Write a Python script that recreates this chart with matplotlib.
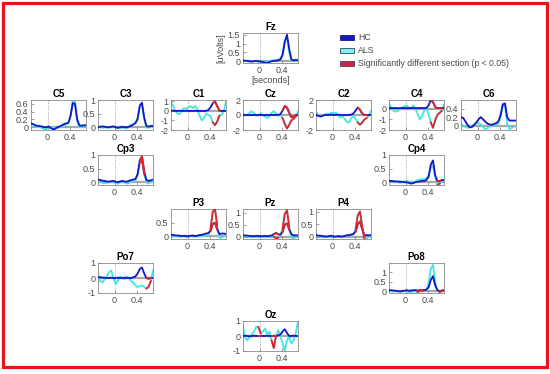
import numpy as np
import matplotlib
matplotlib.use("Agg")
import matplotlib.pyplot as plt
from matplotlib.patches import Patch, Rectangle

plt.rcParams["font.family"] = ["Liberation Sans", "DejaVu Sans"]

C_HC = "#1414c8"
C_ALS = "#3ee6e6"
C_SIG = "#e0242a"
C_ZERO = "#a8a8a8"
C_TXT = "#4a4a4a"

# time axis (s)
times = [-0.30, -0.26, -0.22, -0.18, -0.14, -0.10, -0.06, -0.02, 0.02, 0.06,
         0.10, 0.14, 0.18, 0.22, 0.26, 0.30, 0.34, 0.38, 0.42, 0.46,
         0.50, 0.54, 0.58, 0.62, 0.66, 0.70]

# --- ERP curves (uV) ----------------------------------------------------------
fz_hc  = [0.05, 0.03, 0.02, 0.00, -0.02, 0.00, 0.02, 0.00, -0.02, -0.05, -0.08, -0.10, -0.05,
          0.00, 0.02, 0.03, 0.05, 0.10, 0.35, 1.10, 1.50, 0.70, 0.10, 0.05, 0.08, 0.05]
fz_als = [0.00, 0.02, 0.00, -0.02, 0.00, 0.02, 0.00, -0.02, -0.03, -0.02, 0.00, -0.03, 0.00,
          0.02, 0.05, 0.08, 0.10, 0.15, 0.45, 1.20, 1.30, 0.50, 0.05, 0.02, 0.03, 0.02]

c5_hc  = [0.10, 0.08, 0.05, 0.04, 0.03, 0.02, 0.00, 0.00, 0.02, -0.02, -0.05, -0.04, 0.00,
          0.02, 0.05, 0.08, 0.10, 0.12, 0.30, 0.62, 0.60, 0.20, 0.05, 0.04, 0.05, 0.05]
c5_als = [0.00, 0.02, 0.03, 0.02, 0.00, -0.02, -0.05, -0.05, -0.03, -0.02, 0.00, 0.00, -0.02,
          0.00, 0.03, 0.05, 0.07, 0.10, 0.30, 0.70, 0.65, 0.15, 0.00, 0.00, 0.02, 0.03]

c3_hc  = [0.00, 0.02, 0.03, 0.02, 0.00, 0.00, 0.02, 0.03, 0.00, -0.02, 0.00, 0.02, 0.00,
          0.00, 0.02, 0.05, 0.10, 0.15, 0.30, 0.80, 0.90, 0.35, 0.05, 0.02, 0.05, 0.05]
c3_als = [0.00, 0.00, -0.02, 0.00, 0.00, -0.02, 0.00, 0.00, 0.00, -0.02, -0.03, -0.02, 0.00,
          -0.05, 0.00, 0.10, 0.10, 0.15, 0.35, 0.75, 0.80, 0.30, 0.00, -0.02, 0.02, 0.05]

c1_hc  = [0.05, 0.03, 0.00, 0.00, 0.02, 0.00, 0.00, 0.02, 0.00, 0.00, 0.00, 0.02, 0.00,
          0.00, 0.00, 0.00, 0.02, 0.10, 0.40, 0.80, 1.00, 0.50, 0.05, 0.00, 0.00, 0.00]
c1_als = [1.00, 0.50, 0.00, -0.30, -0.30, 0.10, 0.30, 0.20, 0.40, 0.50, 0.30, 0.50, 0.20,
          -0.50, -1.00, -0.70, -0.30, -0.40, -0.60, -1.20, -1.50, -1.10, -0.50, -0.40, 0.00, 1.00]

cz_hc  = [0.00, 0.02, 0.00, -0.02, 0.00, 0.02, 0.00, 0.00, 0.02, 0.00, -0.02, 0.00, 0.00,
          0.02, 0.00, 0.00, 0.02, 0.10, 0.60, 1.20, 1.00, 0.30, -0.30, -0.20, 0.00, 0.00]
cz_als = [0.10, -0.10, 0.00, 0.30, 0.50, 0.20, -0.10, 0.00, 0.20, 0.00, -0.20, -0.40, -0.20,
          0.30, 0.50, 0.20, -0.10, 0.00, -0.40, -1.20, -1.80, -1.30, -0.70, -0.50, -0.20, 0.50]

c2_hc  = [0.00, -0.10, -0.20, -0.10, 0.00, 0.00, 0.00, 0.05, 0.00, 0.00, 0.05, 0.00, 0.00,
          0.00, 0.00, 0.00, 0.05, 0.20, 0.60, 1.00, 0.70, 0.20, 0.00, 0.00, 0.00, 0.00]
c2_als = [0.50, -0.10, -0.20, -0.10, 0.00, 0.20, 0.10, 0.30, 0.20, 0.30, 0.00, -0.30, -0.20,
          -0.50, -0.90, -1.00, -0.40, -0.20, -0.50, -1.00, -1.30, -1.00, -0.60, -0.40, -0.10, 0.60]

c4_hc  = [0.05, 0.05, 0.05, 0.05, 0.03, 0.05, 0.05, 0.05, 0.05, 0.05, 0.05, 0.05, 0.05,
          0.05, 0.05, 0.05, 0.05, 0.05, 0.30, 0.80, 0.60, 0.15, 0.05, 0.05, 0.05, 0.05]
c4_als = [0.50, 0.10, -0.20, -0.30, -0.20, 0.00, 0.10, 0.20, 0.30, 0.10, 0.00, 0.30, 0.00,
          -0.50, -1.00, -0.70, -0.20, 0.00, -0.50, -1.30, -1.80, -1.10, -0.60, -0.40, -0.20, 0.40]

c6_hc  = [0.20, 0.18, 0.10, 0.02, -0.04, -0.03, 0.02, 0.08, 0.15, 0.20, 0.15, 0.10, 0.05,
          0.03, 0.02, 0.04, 0.06, 0.10, 0.25, 0.50, 0.52, 0.20, 0.12, 0.12, 0.12, 0.12]
c6_als = [0.05, 0.00, -0.03, -0.05, -0.02, 0.00, 0.03, 0.05, 0.06, 0.03, -0.03, -0.08, -0.06,
          -0.02, 0.00, 0.02, 0.03, 0.05, 0.20, 0.48, 0.45, 0.05, -0.08, -0.05, -0.03, 0.00]

cp3_hc  = [0.10, 0.08, 0.06, 0.05, 0.03, 0.02, 0.04, 0.05, 0.02, 0.00, 0.03, 0.05, 0.03,
           0.02, 0.05, 0.08, 0.10, 0.12, 0.30, 0.80, 0.95, 0.40, 0.08, 0.05, 0.07, 0.10]
cp3_als = [0.02, 0.00, -0.02, -0.04, -0.02, 0.00, 0.02, 0.00, -0.03, -0.05, 0.00, 0.03, 0.00,
           -0.05, -0.03, 0.02, 0.05, 0.08, 0.25, 0.70, 0.80, 0.30, 0.00, -0.05, 0.00, 0.02]

cp4_hc  = [0.05, 0.05, 0.04, 0.03, 0.03, 0.02, 0.02, 0.00, 0.00, -0.02, -0.05, -0.03, 0.00,
           0.02, 0.03, 0.05, 0.05, 0.08, 0.20, 0.65, 0.80, 0.25, 0.05, 0.05, 0.08, 0.08]
cp4_als = [0.03, 0.02, 0.00, 0.02, 0.00, -0.02, 0.00, 0.03, 0.05, 0.02, 0.00, 0.00, 0.03,
           0.08, 0.10, 0.10, 0.12, 0.15, 0.25, 0.55, 0.60, 0.20, -0.10, -0.05, 0.02, 0.05]

p3_hc  = [0.05, 0.05, 0.03, 0.03, 0.02, 0.00, 0.02, 0.00, 0.00, 0.02, 0.03, 0.00, 0.02,
          0.05, 0.05, 0.08, 0.10, 0.12, 0.20, 0.45, 0.50, 0.25, 0.08, 0.10, 0.10, 0.08]
p3_als = [0.00, -0.02, 0.00, 0.00, -0.02, 0.00, 0.00, -0.03, 0.00, 0.00, -0.02, 0.00, 0.00,
          0.00, 0.00, 0.02, 0.03, 0.05, 0.30, 0.90, 1.00, 0.40, -0.05, -0.05, 0.00, 0.02]

pz_hc  = [0.05, 0.05, 0.04, 0.03, 0.02, 0.02, 0.03, 0.03, 0.02, 0.02, 0.03, 0.02, 0.03,
          0.05, 0.10, 0.15, 0.10, 0.08, 0.20, 0.50, 0.55, 0.30, 0.10, 0.05, 0.05, 0.05]
pz_als = [0.00, 0.00, 0.00, -0.02, 0.00, 0.00, 0.00, 0.00, 0.00, -0.02, 0.00, 0.00, 0.00,
          0.02, 0.00, -0.08, -0.05, 0.05, 0.35, 0.95, 1.10, 0.40, -0.05, -0.10, 0.00, 0.02]

p4_hc  = [0.05, 0.04, 0.03, 0.02, 0.00, 0.00, 0.02, 0.03, 0.00, 0.00, 0.02, 0.00, 0.00,
          0.02, 0.05, 0.05, 0.08, 0.10, 0.20, 0.50, 0.60, 0.30, 0.05, 0.05, 0.05, 0.05]
p4_als = [0.00, 0.00, 0.00, -0.02, 0.00, 0.00, -0.02, 0.00, 0.00, -0.02, 0.00, 0.00, 0.00,
          0.02, 0.03, 0.05, 0.05, 0.08, 0.30, 0.85, 1.00, 0.40, -0.10, -0.08, 0.00, 0.02]

po7_hc  = [0.05, 0.05, 0.03, 0.02, 0.00, 0.00, 0.02, 0.00, 0.00, 0.02, 0.00, 0.00, 0.02,
           0.00, 0.00, 0.00, 0.05, 0.10, 0.30, 0.60, 0.70, 0.30, 0.00, -0.05, 0.00, 0.00]
po7_als = [0.30, -0.20, -0.30, -0.10, 0.10, 0.40, 0.50, 0.00, -0.40, -0.20, 0.10, 0.00, -0.10,
           0.10, 0.00, -0.20, -0.30, -0.50, -0.60, -0.55, -0.50, -0.60, -0.70, -0.60, -0.20, 0.50]

po8_hc  = [0.05, 0.05, 0.03, 0.02, 0.00, -0.02, 0.00, 0.02, 0.05, 0.02, 0.03, 0.05, 0.05,
           0.03, 0.05, 0.05, 0.05, 0.08, 0.20, 0.60, 0.80, 0.30, 0.05, 0.00, 0.03, 0.05]
po8_als = [0.00, 0.00, -0.02, 0.00, 0.00, -0.02, 0.00, 0.00, 0.00, -0.05, -0.05, -0.02, 0.00,
           -0.05, 0.00, 0.02, 0.05, 0.10, 0.40, 1.20, 1.40, 0.50, 0.00, -0.05, 0.00, 0.02]

oz_hc  = [0.00, 0.02, 0.00, -0.02, 0.00, 0.02, 0.00, 0.00, 0.02, 0.00, 0.00, 0.02, 0.00,
          0.00, 0.02, 0.00, 0.05, 0.10, 0.30, 0.45, 0.20, 0.00, 0.00, 0.02, 0.00, 0.00]
oz_als = [0.60, -0.10, -0.30, 0.00, 0.10, 0.30, 0.60, 0.60, 0.20, 0.30, 0.50, 0.10, 0.30,
          -0.30, -0.80, 0.00, 0.40, 0.00, -0.50, -1.00, -0.30, 0.00, -0.50, -0.30, 0.20, 1.00]

# significant sections (s)
sig_c1  = [(0.44, 0.60)]
sig_cz  = [(0.42, 0.66)]
sig_c2  = [(0.44, 0.62)]
sig_c4  = [(0.44, 0.66)]
sig_cp3 = [(0.46, 0.54)]
sig_cp4 = [(0.55, 0.62)]
sig_p3  = [(0.40, 0.56)]
sig_pz  = [(0.24, 0.36), (0.42, 0.56)]
sig_p4  = [(0.42, 0.60)]
sig_po7 = [(0.56, 0.66)]
sig_po8 = [(0.22, 0.30), (0.60, 0.66)]
sig_oz  = [(-0.04, 0.02), (0.22, 0.30)]

# name -> (hc, als, sig, ylim, yticks)
channels = {
    "Fz":  (fz_hc,  fz_als,  [],      (-0.1, 1.6),  [0, 0.5, 1, 1.5]),
    "C5":  (c5_hc,  c5_als,  [],      (-0.07, 0.7), [0, 0.2, 0.4, 0.6]),
    "C3":  (c3_hc,  c3_als,  [],      (-0.1, 1.0),  [0, 0.5, 1]),
    "C1":  (c1_hc,  c1_als,  sig_c1,  (-2, 1.15),   [-2, -1, 0, 1]),
    "Cz":  (cz_hc,  cz_als,  sig_cz,  (-2, 2),      [-2, 0, 2]),
    "C2":  (c2_hc,  c2_als,  sig_c2,  (-2, 2),      [-2, 0, 2]),
    "C4":  (c4_hc,  c4_als,  sig_c4,  (-2, 0.8),    [-2, -1, 0]),
    "C6":  (c6_hc,  c6_als,  [],      (-0.1, 0.6),  [0, 0.2, 0.4]),
    "Cp3": (cp3_hc, cp3_als, sig_cp3, (-0.1, 1.0),  [0, 0.5, 1]),
    "Cp4": (cp4_hc, cp4_als, sig_cp4, (-0.1, 1.0),  [0, 0.5, 1]),
    "P3":  (p3_hc,  p3_als,  sig_p3,  (-0.1, 1.0),  [0, 0.5]),
    "Pz":  (pz_hc,  pz_als,  sig_pz,  (-0.1, 1.15), [0, 0.5, 1]),
    "P4":  (p4_hc,  p4_als,  sig_p4,  (-0.1, 1.1),  [0, 0.5, 1]),
    "Po7": (po7_hc, po7_als, sig_po7, (-1, 1),      [-1, 0, 1]),
    "Po8": (po8_hc, po8_als, sig_po8, (-0.1, 1.5),  [0, 0.5, 1]),
    "Oz":  (oz_hc,  oz_als,  sig_oz,  (-1, 1),      [-1, 0, 1]),
}

# --- layout (pixel boxes: left, top, width, height) ---------------------------
W, H = 550, 374
COLS = {"c5": 31, "c3": 98, "c1": 171, "cz": 243, "c2": 316, "c4": 389, "c6": 461}
ROWS = {"r1": 33, "r2": 100, "r3": 155, "r4": 209, "r5": 263, "r6": 321}
AW, AH = 55, 30
where = {
    "Fz": ("cz", "r1"),
    "C5": ("c5", "r2"), "C3": ("c3", "r2"), "C1": ("c1", "r2"), "Cz": ("cz", "r2"),
    "C2": ("c2", "r2"), "C4": ("c4", "r2"), "C6": ("c6", "r2"),
    "Cp3": ("c3", "r3"), "Cp4": ("c4", "r3"),
    "P3": ("c1", "r4"), "Pz": ("cz", "r4"), "P4": ("c2", "r4"),
    "Po7": ("c3", "r5"), "Po8": ("c4", "r5"),
    "Oz": ("cz", "r6"),
}

t = np.array(times)
fig = plt.figure(figsize=(5.5, 3.74), dpi=100)
fig.patch.set_facecolor("white")

for name, (hc, als, sig, ylim, yticks) in channels.items():
    col, row = where[name]
    x0, y0 = COLS[col], ROWS[row]
    ax = fig.add_axes([x0 / W, 1 - (y0 + AH) / H, AW / W, AH / H])
    ax.axhline(0, color=C_ZERO, lw=1.6, zorder=1)
    ax.axvline(0, color="#8c8c8c", lw=0.6, ls=":", zorder=1)
    ax.plot(t, als, color=C_ALS, lw=1.3, zorder=2)
    ax.plot(t, hc, color=C_HC, lw=1.3, zorder=3)
    for a, b in sig:
        m = (t >= a - 1e-9) & (t <= b + 1e-9)
        ax.plot(t[m], np.array(als)[m], color=C_SIG, lw=1.3, zorder=4)
        ax.plot(t[m], np.array(hc)[m], color=C_SIG, lw=1.3, zorder=4)
    ax.set_xlim(-0.3, 0.7)
    ax.set_ylim(*ylim)
    ax.set_xticks([0, 0.4])
    ax.set_xticklabels(["0", "0.4"])
    ax.set_yticks(yticks)
    ax.set_yticklabels([f"{v:g}" for v in yticks])
    ax.tick_params(direction="in", length=2, width=0.5, labelsize=6.5,
                   labelcolor=C_TXT, pad=2, colors="#777777")
    for s in ax.spines.values():
        s.set_color("#8a8a8a")
        s.set_linewidth(0.6)
    ax.set_title(name, fontsize=7, fontweight="bold", pad=2)
    if name == "Fz":
        ax.set_xlabel("[seconds]", fontsize=6.5, color=C_TXT, labelpad=1)
        ax.set_ylabel("[uVolts]", fontsize=6.5, color=C_TXT, labelpad=2)

handles = [Patch(facecolor="#0c1cc0", edgecolor="#1a1a80", lw=0.6),
           Patch(facecolor="#7ff0ec", edgecolor="#2a4a6a", lw=0.6),
           Patch(facecolor="#d8203a", edgecolor="#404080", lw=0.6)]
leg = fig.legend(handles, ["HC", "ALS", "Significantly different section (p < 0.05)"],
                 loc="upper left", bbox_to_anchor=(336 / W, 1 - 29 / H), frameon=False,
                 fontsize=6.3, handlelength=1.5, handleheight=0.55, labelspacing=0.45,
                 handletextpad=0.5, borderpad=0)
for txt in leg.get_texts():
    txt.set_color(C_TXT)

fig.patches.append(Rectangle((3 / W, 1 - 367 / H), 544 / W, 364 / H,
                             transform=fig.transFigure, fill=False,
                             edgecolor="#e8141c", lw=2.3))

fig.savefig("out.png", dpi=100)
